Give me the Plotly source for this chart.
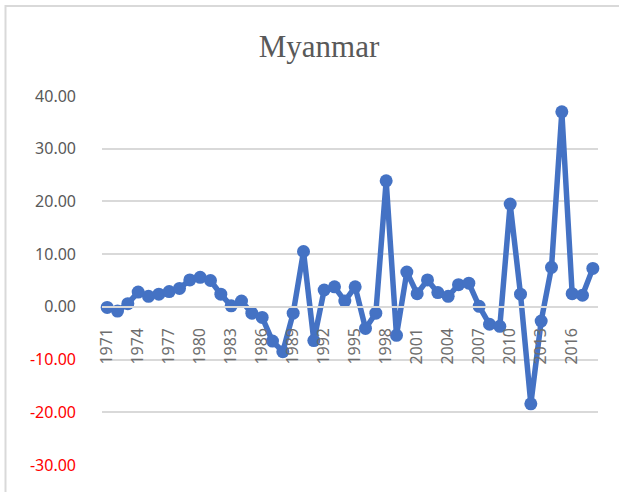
import plotly.graph_objects as go

years = [str(y) for y in range(1971, 2019)]
values = [-0.1, -0.8, 0.6, 2.8, 2.0, 2.4, 2.9, 3.5, 5.1, 5.6,
          5.0, 2.4, 0.2, 1.1, -1.2, -2.0, -6.5, -8.5, -1.2, 10.5,
          -6.4, 3.2, 3.8, 1.1, 3.8, -4.1, -1.2, 23.9, -5.4, 6.6,
          2.5, 5.1, 2.7, 2.0, 4.2, 4.5, 0.1, -3.3, -3.7, 19.5,
          2.4, -18.4, -2.7, 7.5, 37.0, 2.5, 2.2, 7.3]
x_tick_labels = [str(y) for y in range(1971, 2019, 3)]
y_tick_vals = [-30, -20, -10, 0, 10, 20, 30, 40]

def fmt(v):
    s = f"{v:.2f}"
    if v < 0:
        return f"<span style='color:#ff0000'>{s}</span>"
    return s

fig = go.Figure()
fig.add_trace(go.Scatter(
    x=years, y=values, mode="lines+markers",
    line=dict(color="#4472C4", width=5.5),
    marker=dict(color="#4472C4", size=13),
    showlegend=False, cliponaxis=False,
))

W, H = 619, 492
L, R, T, B = 102, 21, 96, 27
pw, ph = W - L - R, H - T - B

fig.update_layout(
    width=W, height=H,
    margin=dict(l=L, r=R, t=T, b=B, autoexpand=False),
    paper_bgcolor="white", plot_bgcolor="white",
    title=dict(text="Myanmar", x=319 / W, xanchor="center", y=1 - 46 / H, yanchor="middle",
               font=dict(family="Liberation Serif", size=31, color="#595959")),
    font=dict(family="Noto Sans", color="#595959"),
    xaxis=dict(
        type="category", anchor="free", position=30 / 70, automargin=False,
        range=[-0.5, len(years) - 0.5],
        tickmode="array", tickvals=x_tick_labels, ticktext=x_tick_labels,
        tickangle=-90, tickfont=dict(size=16, color="#6e6e6e"),
        showline=True, linecolor="#d9d9d9", linewidth=1.5,
        showgrid=False, zeroline=False, ticks="", ticklabelstandoff=14,
    ),
    yaxis=dict(
        range=[-30, 40], tickmode="array", tickvals=y_tick_vals, automargin=False,
        ticktext=[fmt(v) for v in y_tick_vals],
        tickfont=dict(size=16, color="#595959"),
        showgrid=True, gridcolor="#d9d9d9", gridwidth=1.5,
        zeroline=False, showline=False, ticks="", ticklabelstandoff=25,
    ),
    shapes=[dict(type="rect", xref="paper", yref="paper",
                 x0=(5.5 - L) / pw, x1=(630 - L) / pw,
                 y0=-0.3, y1=1 + (T - 6) / ph,
                 line=dict(color="#d9d9d9", width=2), layer="below")],
)

fig.write_html("out.html", config={"displayModeBar": False},
               post_script="document.body.style.margin='0px';")
